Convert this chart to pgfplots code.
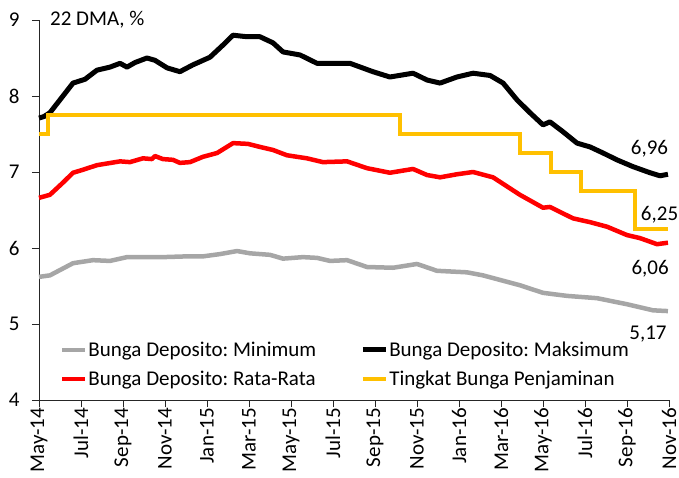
\documentclass[border=0pt]{standalone}
\usepackage{pgfplots}
\pgfplotsset{compat=1.18}
\usepackage{fontspec}
\setmainfont{Carlito}
\usetikzlibrary{calc}
\definecolor{cgray}{RGB}{166,166,166}
\definecolor{cred}{RGB}{255,0,0}
\definecolor{cyel}{RGB}{255,192,0}
\newcommand{\fl}{\fontsize{21}{25}\selectfont}
\newcommand{\ft}{\fontsize{21}{25}\selectfont}
\frenchspacing
\begin{document}
\begin{tikzpicture}
\begin{axis}[
  name=ax,
  scale only axis,
  width=630pt, height=380pt,
  xmin=0, xmax=30, ymin=4, ymax=9,
  axis x line*=bottom, axis y line*=left,
  axis line style={line width=0.9pt, black!85},
  tick style={line width=0.9pt, black!85},
  tick align=outside,
  major tick length=7pt,
  xtick={0,2,...,30},
  xticklabels={May-14,Jul-14,Sep-14,Nov-14,Jan-15,Mar-15,May-15,Jul-15,Sep-15,Nov-15,Jan-16,Mar-16,May-16,Jul-16,Sep-16,Nov-16},
  x tick label style={rotate=90, anchor=east, font=\ft, inner sep=1pt},
  ytick={4,5,6,7,8,9},
  y tick label style={font=\fl, xshift=-9pt},
  /pgf/number format/assume math mode=true,
  clip=false,
  legend columns=2,
  legend cell align=left,
  legend style={draw=none, fill=none, font=\fl\frenchspacing, at={(0.033,0.156)}, anchor=north west,
    inner sep=0pt, nodes={inner sep=1pt},
    /tikz/row sep=11pt,
    /tikz/every even column/.append style={column sep=43pt}},
  legend image code/.code={\draw[#1] (0pt,0pt) -- (23pt,0pt);},
]
\addplot[cgray, line width=4.5pt, line join=round] coordinates {
(0,5.62)(0.52,5.64)(1.62,5.80)(2.57,5.84)(3.38,5.83)(4.19,5.88)(5.90,5.88)(7.05,5.89)(7.81,5.89)(8.62,5.92)(9.43,5.96)(10.05,5.93)(11.0,5.91)(11.62,5.86)(12.57,5.88)(13.24,5.87)(13.86,5.83)(14.67,5.84)(15.62,5.75)(16.86,5.74)(18.0,5.79)(18.95,5.70)(20.38,5.68)(21.14,5.64)(22.90,5.51)(24.0,5.41)(25.14,5.37)(26.57,5.34)(28.0,5.26)(29.24,5.18)(29.95,5.17)};
\addlegendentry{Bunga Deposito: Minimum}
\addplot[black, line width=5pt, line join=round] coordinates {
(0,7.71)(0.24,7.73)(0.52,7.78)(1.0,7.95)(1.62,8.17)(2.19,8.22)(2.76,8.34)(3.38,8.38)(3.86,8.43)(4.19,8.38)(4.57,8.44)(5.14,8.50)(5.52,8.47)(6.10,8.37)(6.71,8.32)(7.33,8.41)(8.14,8.51)(8.76,8.67)(9.24,8.80)(9.90,8.78)(10.52,8.78)(11.14,8.70)(11.62,8.58)(12.43,8.54)(13.24,8.43)(14.0,8.43)(14.81,8.43)(15.90,8.32)(16.71,8.25)(17.81,8.30)(18.48,8.21)(19.10,8.17)(19.90,8.25)(20.67,8.30)(21.48,8.27)(22.10,8.17)(22.76,7.95)(23.38,7.78)(24.0,7.62)(24.33,7.66)(24.95,7.53)(25.62,7.38)(26.24,7.33)(26.86,7.25)(27.52,7.16)(28.29,7.07)(29.10,6.99)(29.57,6.95)(29.95,6.97)};
\addlegendentry{Bunga Deposito: Maksimum}
\addplot[cred, line width=4.5pt, line join=round] coordinates {
(0,6.66)(0.52,6.70)(1.14,6.86)(1.62,6.99)(2.10,7.03)(2.76,7.09)(3.86,7.14)(4.33,7.13)(4.95,7.18)(5.38,7.17)(5.52,7.21)(5.90,7.17)(6.38,7.16)(6.71,7.12)(7.19,7.13)(7.81,7.20)(8.48,7.25)(9.24,7.38)(9.95,7.37)(10.52,7.33)(11.14,7.29)(11.81,7.22)(12.76,7.18)(13.52,7.13)(14.67,7.14)(15.62,7.05)(16.71,6.99)(17.81,7.04)(18.48,6.96)(19.10,6.93)(19.90,6.97)(20.67,7.00)(21.62,6.93)(22.90,6.70)(24.0,6.53)(24.33,6.54)(25.43,6.39)(26.24,6.34)(27.05,6.28)(28.0,6.17)(28.62,6.13)(29.43,6.05)(29.95,6.07)};
\addlegendentry{Bunga Deposito: Rata-Rata}
\addplot[cyel, line width=4pt, line join=miter] coordinates {
(0,7.5)(0.43,7.5)(0.43,7.75)(17.2,7.75)(17.2,7.5)(22.9,7.5)(22.9,7.25)(24.4,7.25)(24.4,7.0)(25.8,7.0)(25.8,6.75)(28.4,6.75)(28.4,6.25)(29.95,6.25)};
\addlegendentry{Tingkat Bunga Penjaminan}
\node[font=\fl, anchor=base west, inner sep=0pt] at (axis cs:0.52,8.934) {22 DMA, \%};
\node[font=\fl, anchor=base, inner sep=0pt] at (axis cs:29.07,7.224) {6,96};
\node[font=\fl, anchor=base, inner sep=0pt] at (axis cs:29.55,6.368) {6,25};
\node[font=\fl, anchor=base, inner sep=0pt] at (axis cs:29.1,5.645) {6,06};
\node[font=\fl, anchor=base, inner sep=0pt] at (axis cs:29.0,4.80) {5,17};
\end{axis}
\pgfresetboundingbox
\path ($(ax.south west)+(-39pt,-77pt)$) rectangle ($(ax.south west)+(640pt,400pt)$);
\end{tikzpicture}
\end{document}
